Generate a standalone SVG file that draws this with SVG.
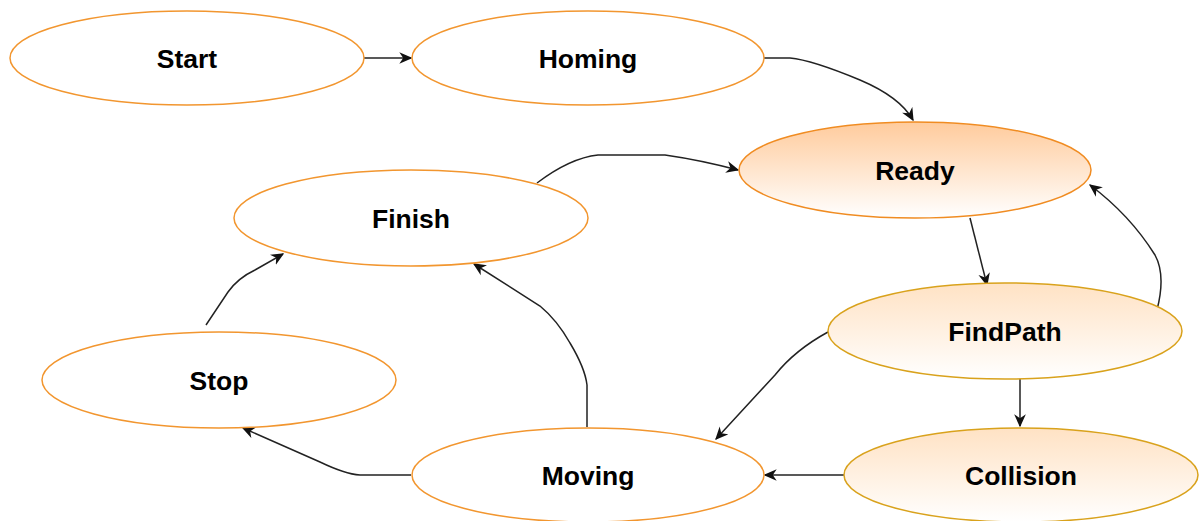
<svg xmlns="http://www.w3.org/2000/svg" width="1200" height="521" viewBox="0 0 1200 521">
<style>
.n{fill:#ffffff;stroke:#f2962f;stroke-width:1.5}
.r{fill:url(#gR);stroke:#f08c22;stroke-width:1.5}
.y{fill:url(#gY);stroke:#d9a21c;stroke-width:1.5}
.t{font-family:"Liberation Sans",Arial,sans-serif;font-weight:bold;font-size:26.5px;fill:#000;text-anchor:middle}
.e{fill:none;stroke:#222;stroke-width:1.5;marker-end:url(#ar)}
</style>
<defs>
<linearGradient id="gR" x1="0" y1="0" x2="0" y2="1"><stop offset="0" stop-color="#ffcb9c"/><stop offset="1" stop-color="#ffffff"/></linearGradient>
<linearGradient id="gY" x1="0" y1="0" x2="0" y2="1"><stop offset="0" stop-color="#ffe2c4"/><stop offset="1" stop-color="#ffffff"/></linearGradient>
<marker id="ar" viewBox="0 0 10 10" refX="9" refY="5" markerWidth="13" markerHeight="13" markerUnits="userSpaceOnUse" orient="auto"><path d="M0,0.5 L10,5 L0,9.5 L3,5 z" fill="#111"/></marker>
</defs>
<g id="edges">
<path class="e" d="M364 58 L411 58"/>
<path class="e" d="M764 58 L790 58 Q812 60 860 80 Q900 97 913 120"/>
<path class="e" d="M537 183 Q570 158 598 155 L665 155 Q700 160 738 170"/>
<path class="e" d="M970 218 L987 285"/>
<path class="e" d="M1157 310 Q1166 275 1155 255 Q1130 215 1090 185"/>
<path class="e" d="M1020 378 L1020 426"/>
<path class="e" d="M828 332 Q795 350 775 375 L716 439"/>
<path class="e" d="M844 475 L765 475"/>
<path class="e" d="M587 427 L587 385 Q585 368 570 343 Q557 320 540 306 L474 264"/>
<path class="e" d="M411 475 L360 475 Q345 474 320 462 L243 428"/>
<path class="e" d="M206 325 L228 292 Q238 278 255 270 L283 254"/>
</g>
<g id="start"><ellipse class="n" cx="187" cy="58" rx="177" ry="47"/><text class="t" x="187" y="68">Start</text></g>
<g id="homing"><ellipse class="n" cx="588" cy="58" rx="176" ry="47"/><text class="t" x="588" y="68">Homing</text></g>
<g id="ready"><ellipse class="r" cx="915" cy="170" rx="176" ry="48"/><text class="t" x="915" y="180">Ready</text></g>
<g id="finish"><ellipse class="n" cx="411" cy="218" rx="177" ry="48"/><text class="t" x="411" y="228">Finish</text></g>
<g id="findpath"><ellipse class="y" cx="1005" cy="331" rx="177" ry="48"/><text class="t" x="1005" y="341">FindPath</text></g>
<g id="stop"><ellipse class="n" cx="219" cy="380" rx="177" ry="48"/><text class="t" x="219" y="390">Stop</text></g>
<g id="moving"><ellipse class="n" cx="588" cy="475" rx="176" ry="47"/><text class="t" x="588" y="485">Moving</text></g>
<g id="collision"><ellipse class="y" cx="1021" cy="475" rx="177" ry="47"/><text class="t" x="1021" y="485">Collision</text></g>
</svg>
